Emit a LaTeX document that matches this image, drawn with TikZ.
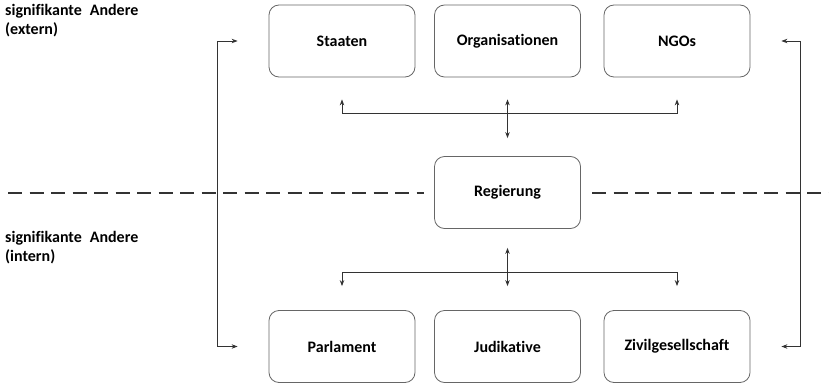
\documentclass[tikz,border=0pt]{standalone}
\usepackage{fontspec}
\setmainfont[Ligatures={NoCommon}]{Carlito}
\usetikzlibrary{arrows.meta,calc}
\begin{document}
\begin{tikzpicture}[x=1pt,y=-1pt,
  box/.style={draw=black!60, line width=0.8pt, rounded corners=10pt, minimum width=146pt, minimum height=72pt,
    font=\fontsize{16}{19}\selectfont\bfseries, inner sep=0pt},
  conn/.style={draw=black!80, line width=0.9pt},
  tips/.style={{Stealth[length=6pt,width=4.5pt]}-{Stealth[length=6pt,width=4.5pt]}},
  divider/.style={draw=black!80, line width=1.5pt, dash pattern=on 14pt off 7.5pt},
  side/.style={anchor=north west, align=left, inner sep=0pt, font=\fontsize{16}{19.5}\selectfont\bfseries}
]
\useasboundingbox (0,0) rectangle (829,385);

\node[box] (s) at (342,41) {Staaten};
\node[box] (o) at (507.5,41) {Organisationen};
\node[box] (n) at (677,41) {NGOs};
\node[box] (r) at (507.5,192.5) {Regierung};
\node[box] (p) at (342,346.5) {Parlament};
\node[box] (j) at (507.5,346.5) {Judikative};
\node[box] (z) at (677,346.5) {Zivilgesellschaft};

\node[side] (ext) at (5,4) {signifikante\hspace{0.5em}Andere\\(extern)};
\node[side] (int) at (5,231) {signifikante\hspace{0.5em}Andere\\(intern)};

\coordinate (dl1) at (8,193);
\coordinate (dl2) at (424,193);
\coordinate (dr1) at (592,193);
\coordinate (dr2) at (829,193);
\draw[divider] (dl1) -- (dl2);
\draw[divider] (dr1) -- (dr2);

% top branch
\draw[conn,tips] ($(s.south)+(0,22)$) -- ($(s.south)+(0,36)$) -- ($(n.south)+(0,36)$) -- ($(n.south)+(0,22)$);
\draw[conn,tips] ($(o.south)+(0,22)$) -- ($(r.north)+(0,-18)$);

% bottom branch
\draw[conn,tips] ($(p.north)+(0,-24)$) -- ($(p.north)+(0,-38)$) -- ($(z.north)+(0,-38)$) -- ($(z.north)+(0,-24)$);
\draw[conn,tips] ($(r.south)+(0,19)$) -- ($(j.north)+(0,-24)$);

% side brackets
\draw[conn,tips] ($(s.west)+(-31,0)$) -- ($(s.west)+(-51,0)$) -- ($(p.west)+(-51,0)$) -- ($(p.west)+(-31,0)$);
\draw[conn,tips] ($(n.east)+(31,0)$) -- ($(n.east)+(50,0)$) -- ($(z.east)+(50,0)$) -- ($(z.east)+(31,0)$);
\end{tikzpicture}
\end{document}
